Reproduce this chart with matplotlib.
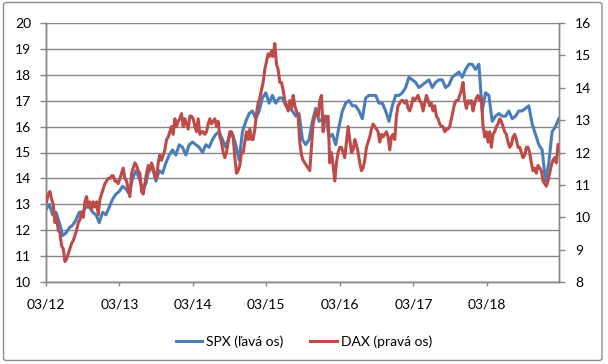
import matplotlib
matplotlib.use("Agg")
import matplotlib.pyplot as plt
import matplotlib.dates as mdates
from matplotlib.patches import FancyBboxPatch
from matplotlib.lines import Line2D
import pandas as pd

# ---- data ----
spx_start, spx_end = "2012-03-01", "2019-02-22"
spx = [12.8, 13.0, 12.6, 12.7, 12.3, 11.8, 11.9, 12.1, 12.2, 12.4,
       12.7, 12.7, 12.9, 12.9, 12.7, 12.6, 12.3, 12.7, 12.6, 12.9,
       13.2, 13.4, 13.5, 13.7, 13.6, 13.4, 14.0, 14.3, 14.0, 13.6,
       13.8, 14.4, 14.4, 13.9, 14.3, 14.2, 14.6, 14.9, 15.1, 14.9,
       15.3, 15.2, 14.9, 15.3, 15.4, 15.3, 15.2, 15.0, 15.3, 15.2,
       15.5, 15.7, 15.8, 15.5, 15.2, 15.6, 15.7, 15.3, 14.7, 15.8,
       16.2, 16.5, 16.6, 16.3, 16.6, 17.1, 17.3, 16.9, 17.2, 16.9,
       17.1, 17.1, 16.8, 16.7, 16.6, 16.4, 16.5, 15.5, 15.3, 15.5,
       16.2, 16.7, 16.2, 16.3, 16.4, 15.6, 15.7, 15.3, 16.0, 16.6,
       16.9, 17.0, 16.8, 16.8, 16.6, 16.3, 17.1, 17.2, 17.2, 17.2,
       16.9, 16.9, 16.6, 16.2, 16.8, 17.2, 17.2, 17.3, 17.5, 17.9,
       17.8, 17.7, 17.5, 17.6, 17.7, 17.8, 17.5, 17.7, 17.8, 17.8,
       17.5, 17.6, 17.9, 18.0, 18.1, 17.9, 18.2, 18.4, 18.4, 18.2,
       18.4, 16.6, 17.3, 17.2, 16.2, 16.4, 16.5, 16.4, 16.4, 16.6,
       16.3, 16.4, 16.6, 16.6, 16.7, 16.8, 16.1, 15.7, 15.3, 15.1,
       13.9, 14.6, 15.8, 16.0, 16.3]

dax_start, dax_end = "2012-03-04", "2019-02-18"
dax = [10.48, 10.72, 10.80, 10.56, 10.40, 9.84, 10.00, 9.60, 9.52, 9.12,
       9.04, 8.64, 8.72, 8.88, 9.04, 9.20, 9.28, 9.44, 9.60, 9.84,
       9.92, 10.16, 10.00, 10.48, 10.64, 10.32, 10.48, 10.24, 10.48, 10.32,
       10.48, 10.08, 10.56, 10.72, 10.88, 11.04, 11.12, 11.20, 11.20, 11.28,
       11.28, 11.12, 11.12, 11.04, 11.20, 11.36, 11.52, 11.20, 11.12, 10.88,
       10.64, 11.36, 11.52, 11.68, 11.60, 11.44, 11.36, 10.80, 10.72, 11.04,
       11.36, 11.60, 11.44, 11.68, 11.52, 11.28, 11.20, 11.68, 11.92, 11.76,
       11.92, 12.08, 12.40, 12.48, 12.64, 12.80, 12.56, 13.04, 12.80, 12.96,
       13.04, 13.20, 12.80, 13.04, 12.88, 12.72, 13.12, 13.12, 13.04, 12.80,
       12.64, 13.04, 12.56, 12.64, 12.64, 12.56, 12.64, 12.88, 13.04, 12.88,
       12.96, 13.04, 12.80, 12.96, 12.48, 12.32, 12.00, 11.84, 12.00, 12.32,
       12.64, 12.64, 12.48, 11.84, 11.36, 11.44, 11.60, 12.00, 12.00, 12.32,
       12.64, 12.40, 12.72, 12.40, 12.40, 12.72, 13.20, 13.52, 13.68, 13.92,
       14.16, 14.56, 14.80, 15.04, 14.96, 15.12, 14.96, 15.36, 14.72, 14.56,
       14.16, 14.16, 13.92, 13.60, 13.44, 13.28, 13.60, 13.36, 13.76, 13.44,
       13.28, 13.12, 12.32, 11.92, 11.76, 11.68, 11.60, 11.52, 11.44,
       12.16, 12.88, 13.12, 13.28, 13.12, 13.60, 13.76, 12.64, 13.12, 13.04,
       13.12, 11.68, 12.00, 11.60, 11.12, 11.68, 12.00, 12.16, 12.16, 12.00,
       11.84, 12.32, 12.80, 12.40, 12.00, 12.08, 12.40, 12.24, 12.00, 11.68,
       11.44, 11.52, 11.76, 12.16, 12.32, 12.48, 12.72, 12.88, 12.80, 12.72,
       12.64, 12.32, 12.56, 12.48, 12.56, 12.64, 12.48, 12.08, 12.48, 12.56,
       12.40, 13.12, 13.44, 13.52, 13.60, 13.60, 13.52, 13.60, 13.36, 13.28,
       13.44, 13.68, 13.60, 13.68, 13.76, 13.60, 13.52, 13.28, 13.52, 13.76,
       13.60, 13.44, 13.52, 13.28, 13.44, 13.12, 13.04, 12.88, 12.80, 12.80,
       12.64, 12.72, 12.72, 12.80, 13.04, 13.28, 13.52, 13.60, 13.60, 13.76,
       13.92, 14.16, 13.60, 13.36, 13.60, 13.52, 13.60, 13.28, 13.52, 13.68,
       13.76, 13.60, 13.68, 12.80, 12.48, 12.64, 12.32, 12.64, 12.16, 12.56,
       12.64, 12.80, 12.88, 13.04, 12.96, 12.80, 12.64, 12.56, 12.32, 12.16,
       12.24, 12.48, 12.56, 12.40, 12.16, 12.16, 12.00, 11.84, 11.92, 12.16,
       12.16, 12.00, 11.68, 11.44, 11.52, 11.36, 11.60, 11.52, 11.44, 11.12,
       11.04, 10.96, 11.12, 11.36, 11.60, 11.76, 11.84, 11.68, 12.24]

tick_years = [2012, 2013, 2014, 2015, 2016, 2017, 2018]
labels = ["SPX (ľavá os)", "DAX (pravá os)"]

BLUE = "#4A7EBB"
RED = "#BE4B48"
GRID = "#868686"
FONT = ["Lato", "DejaVu Sans"]

plt.rcParams["font.family"] = FONT

spx_dates = pd.date_range(spx_start, spx_end, periods=len(spx))
dax_dates = pd.date_range(dax_start, dax_end, periods=len(dax))

fig = plt.figure(figsize=(6.08, 3.64), dpi=100)
ax = fig.add_axes([46/608, 1-282.3/364, (559-46)/608, (282.3-22.7)/364])
ax2 = ax.twinx()

ax.plot(spx_dates, spx, color=BLUE, lw=2.2, solid_joinstyle="round", zorder=3)
ax2.plot(dax_dates, dax, color=RED, lw=2.2, solid_joinstyle="round", zorder=3)

ax.set_ylim(10, 20)
ax2.set_ylim(8, 16)
ax.set_yticks(range(10, 21))
ax2.set_yticks(range(8, 17))
ax.set_xlim(pd.Timestamp("2012-03-01"), pd.Timestamp("2019-02-23"))
ticks = [pd.Timestamp(f"{y}-03-01") for y in tick_years]
ax.set_xticks(ticks)
ax.xaxis.set_major_formatter(mdates.DateFormatter("%m/%y"))

ax.grid(axis="y", color=GRID, lw=1.0)
ax.set_axisbelow(True)

for a in (ax, ax2):
    a.spines["top"].set_visible(False)
    for s in ("left", "right", "bottom"):
        a.spines[s].set_color(GRID)
        a.spines[s].set_linewidth(1.0)
ax.tick_params(axis="y", length=4.5, width=1.0, color=GRID, pad=6, labelsize=10, labelcolor="black")
ax2.tick_params(axis="y", length=4.5, width=1.0, color=GRID, pad=7, labelsize=10, labelcolor="black")
ax.tick_params(axis="x", length=3, width=1.0, color=GRID, pad=9, labelsize=10, labelcolor="black")

handles = [Line2D([], [], color=BLUE, lw=2.2), Line2D([], [], color=RED, lw=2.2)]
fig.legend(handles, labels, loc="center", bbox_to_anchor=(0.5, 1-341.5/364), ncol=2,
           frameon=False, fontsize=10, handlelength=1.9, handletextpad=0.3, columnspacing=1.9)

border = FancyBboxPatch((3.5/608, 3.5/364), (602-3.5)/608, (361.5-3.5)/364,
                        boxstyle="round,pad=0,rounding_size=0.006", transform=fig.transFigure,
                        fill=False, edgecolor="#8C8C8C", lw=1.0)
fig.patches.append(border)

fig.savefig("out.png", dpi=100)
